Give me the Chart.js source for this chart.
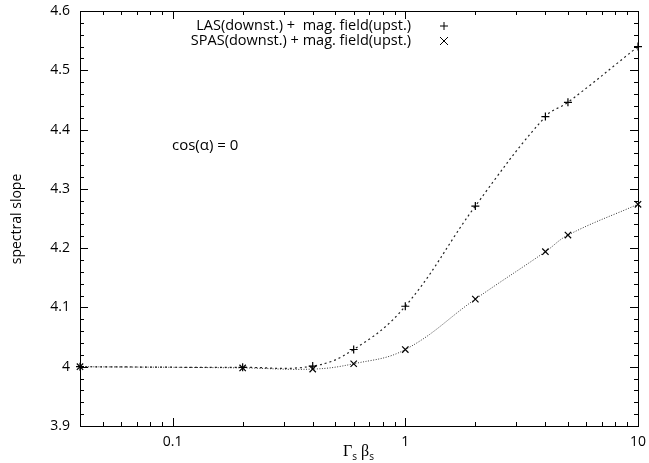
<!DOCTYPE html>
<html>
<head>
<meta charset="utf-8">
<script src="https://cdn.jsdelivr.net/npm/chart.js@4.4.0/dist/chart.umd.min.js"></script>
<style>
  html, body { margin: 0; padding: 0; background: #fff; }
  #wrap { width: 649px; height: 463px; }
</style>
</head>
<body>
<div id="wrap"><canvas id="chartSlope"></canvas></div>
<script>
// values
const gammaBeta = [0.04, 0.2, 0.4, 0.6, 1, 2, 4, 5, 10];
const lasSlope  = [4.000, 3.999, 4.001, 4.029, 4.102, 4.271, 4.422, 4.446, 4.540];
const spasSlope = [4.000, 3.998, 3.996, 4.005, 4.029, 4.114, 4.194, 4.222, 4.274];

const xTickVals = [0.04, 0.05, 0.06, 0.07, 0.08, 0.09, 0.1, 0.2, 0.3, 0.4, 0.5, 0.6, 0.7, 0.8, 0.9,
                   1, 2, 3, 4, 5, 6, 7, 8, 9, 10];
const xTickLabels = {0.1: '0.1', 1: '1', 10: '10'};

const legendLabels = ['LAS(downst.) +  mag. field(upst.)', 'SPAS(downst.) + mag. field(upst.)'];
const noteText = 'cos(\u03b1) = 0';

Chart.defaults.font.family = 'Open Sans';
Chart.defaults.font.size = 14;
Chart.defaults.color = '#000';

function isMajorY(v){
  return Math.abs(v * 10 - Math.round(v * 10)) < 1e-6;
}

// gnuplot style frame: border all round, ticks pointing inwards, texts
const frameTicks = {
  id: 'frameTicks',
  afterDraw(chart){
    const ctx = chart.ctx;
    const a = chart.chartArea;
    const xs = chart.scales.x, ys = chart.scales.y;
    ctx.save();
    ctx.strokeStyle = '#000';
    ctx.lineWidth = 1;
    ctx.strokeRect(a.left + 0.5, a.top + 0.5, a.right - a.left, a.bottom - a.top);

    ctx.beginPath();
    xs.ticks.forEach(t => {
      const px = Math.round(xs.getPixelForValue(t.value)) + 0.5;
      const len = xTickLabels[t.value] ? 8 : 4;
      ctx.moveTo(px, a.bottom); ctx.lineTo(px, a.bottom - len);
      ctx.moveTo(px, a.top); ctx.lineTo(px, a.top + len);
    });
    ys.ticks.forEach(t => {
      const py = Math.round(ys.getPixelForValue(t.value)) + 0.5;
      const len = isMajorY(t.value) ? 8 : 4;
      ctx.moveTo(a.left, py); ctx.lineTo(a.left + len, py);
      ctx.moveTo(a.right, py); ctx.lineTo(a.right - len, py);
    });
    ctx.stroke();

    // legend
    ctx.font = '14.5px "Open Sans"';
    ctx.fillStyle = '#000';
    ctx.textAlign = 'right';
    ctx.textBaseline = 'middle';
    ctx.fillText(legendLabels[0], 411, 26);
    ctx.fillText(legendLabels[1], 411, 41);
    ctx.beginPath();
    ctx.moveTo(444, 22); ctx.lineTo(444, 30);
    ctx.moveTo(440, 26); ctx.lineTo(448, 26);
    ctx.moveTo(440, 37); ctx.lineTo(448, 45);
    ctx.moveTo(448, 37); ctx.lineTo(440, 45);
    ctx.stroke();

    // annotation
    ctx.textAlign = 'left';
    ctx.font = '15px "Open Sans"';
    ctx.fillText(noteText, 172, 146);

    // y title
    ctx.save();
    ctx.translate(17, 219);
    ctx.rotate(-Math.PI / 2);
    ctx.textAlign = 'center';
    ctx.font = '14px "Open Sans"';
    ctx.fillText('spectral slope', 0, 0);
    ctx.restore();

    // x title  Γs βs
    ctx.textAlign = 'left';
    ctx.textBaseline = 'alphabetic';
    let x = 343;
    ctx.font = '16px "Liberation Serif"';
    ctx.fillText('\u0393', x, 456); x += ctx.measureText('\u0393').width;
    ctx.font = '10px "Open Sans"';
    ctx.fillText('s', x, 460); x += ctx.measureText('s').width + 4;
    ctx.font = '16px "Liberation Serif"';
    ctx.fillText('\u03b2', x, 456); x += ctx.measureText('\u03b2').width;
    ctx.font = '10px "Open Sans"';
    ctx.fillText('s', x, 460);
    ctx.restore();
  }
};

const ctx = document.getElementById('chartSlope').getContext('2d');
const slopeChart = new Chart(ctx, {
  type: 'line',
  data: {
    datasets: [{
      label: legendLabels[0],
      data: gammaBeta.map((g, i) => ({x: g, y: lasSlope[i]})),
      borderColor: '#222',
      borderWidth: 1.2,
      borderDash: [2, 3],
      tension: 0.4,
      fill: false,
      pointStyle: 'cross',
      pointRadius: 4,
      pointBorderColor: '#000',
      pointBorderWidth: 1.2,
      clip: false
    }, {
      label: legendLabels[1],
      data: gammaBeta.map((g, i) => ({x: g, y: spasSlope[i]})),
      borderColor: '#333',
      borderWidth: 1,
      borderDash: [1, 1.6],
      tension: 0.4,
      fill: false,
      pointStyle: 'crossRot',
      pointRadius: 4.5,
      pointBorderColor: '#000',
      pointBorderWidth: 1.2,
      clip: false
    }]
  },
  options: {
    responsive: true,
    maintainAspectRatio: false,
    animation: false,
    layout: { padding: { top: 11, right: 11, left: 0, bottom: 0 } },
    plugins: {
      legend: { display: false },
      tooltip: { enabled: false }
    },
    scales: {
      x: {
        type: 'logarithmic',
        min: 0.04,
        max: 10,
        afterBuildTicks: (scale) => {
          scale.ticks = xTickVals.map(v => ({value: v}));
        },
        afterFit: (scale) => {
          scale.height = 37;
          scale.paddingLeft = 0;
          scale.paddingRight = 0;
        },
        grid: { display: false, drawTicks: false },
        border: { display: false },
        ticks: {
          autoSkip: false,
          maxRotation: 0,
          padding: 8,
          font: { size: 14 },
          callback: (v) => xTickLabels[v] || ''
        }
      },
      y: {
        type: 'linear',
        min: 3.9,
        max: 4.6,
        afterFit: (scale) => {
          scale.width = 80;
          scale.paddingTop = 0;
          scale.paddingBottom = 0;
        },
        grid: { display: false, drawTicks: false },
        border: { display: false },
        ticks: {
          stepSize: 0.02,
          autoSkip: false,
          padding: 10,
          font: { size: 14 },
          callback: (v) => isMajorY(v) ? (Math.abs(v - 4) < 1e-6 ? '4' : v.toFixed(1)) : ''
        }
      }
    }
  },
  plugins: [frameTicks]
});
</script>
</body>
</html>
